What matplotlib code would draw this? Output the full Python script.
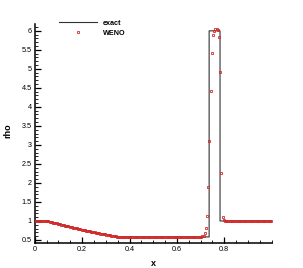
import numpy as np
import matplotlib
matplotlib.use("Agg")
import matplotlib.pyplot as plt
from matplotlib.ticker import MultipleLocator, FixedLocator, FuncFormatter

plt.rcParams['font.family'] = ['Liberation Sans', 'DejaVu Sans']

# Exact solution (breakpoints)
exact_x = [0.0, 0.052, 0.1, 0.15, 0.2, 0.25, 0.3, 0.353, 0.736, 0.736, 0.782, 0.782, 1.0]
exact_rho = [1.0, 1.0, 0.920, 0.843, 0.772, 0.704, 0.642, 0.58, 0.58, 6.0, 6.0, 1.0, 1.0]

# WENO cell values (200 cells)
weno_left = [1.0, 1.0, 1.0, 1.0, 1.0, 1.0, 1.0, 1.0, 1.0, 0.999]
weno_rarefaction = [
    0.997, 0.991, 0.982, 0.974, 0.966, 0.957, 0.949, 0.941, 0.933, 0.925,
    0.917, 0.909, 0.901, 0.893, 0.885, 0.877, 0.870, 0.862, 0.855, 0.847,
    0.840, 0.832, 0.825, 0.818, 0.810, 0.803, 0.796, 0.789, 0.782, 0.775,
    0.768, 0.761, 0.754, 0.747, 0.741, 0.734, 0.727, 0.721, 0.714, 0.708,
    0.701, 0.695, 0.688, 0.682, 0.676, 0.669, 0.663, 0.657, 0.651, 0.645,
    0.639, 0.633, 0.627, 0.621, 0.615, 0.610, 0.604, 0.598, 0.593, 0.588,
    0.584]
weno_plateau = [0.581, 0.580, 0.580, 0.580, 0.580, 0.580, 0.580, 0.580, 0.580, 0.580,
                0.580, 0.580, 0.580, 0.580, 0.580, 0.580, 0.580, 0.580, 0.580, 0.580,
                0.580, 0.580, 0.580, 0.580, 0.580, 0.580, 0.580, 0.580, 0.580, 0.580,
                0.580, 0.580, 0.580, 0.580, 0.580, 0.580, 0.580, 0.580, 0.580, 0.580,
                0.580, 0.580, 0.580, 0.580, 0.580, 0.580, 0.580, 0.580, 0.580, 0.580,
                0.580, 0.580, 0.580, 0.580, 0.580, 0.580, 0.580, 0.580, 0.580, 0.580,
                0.580, 0.580, 0.580, 0.580, 0.580, 0.580, 0.580, 0.580, 0.582, 0.585,
                0.595, 0.61]
weno_peak = [0.676, 0.81, 1.14, 1.90, 3.11, 4.43, 5.43, 5.89, 6.0, 6.04,
             6.04, 6.01, 5.83, 4.91, 2.25, 1.11, 1.02]
weno_right = [1.0] * 40

weno_rho = weno_left + weno_rarefaction + weno_plateau + weno_peak + weno_right
n_cells = len(weno_rho)
x_cells = (np.arange(n_cells) + 0.5) / n_cells

x_ticks = [0, 0.2, 0.4, 0.6, 0.8]
x_tick_labels = ["0", "0.2", "0.4", "0.6", "0.8"]
y_ticks = [0.5, 1, 1.5, 2, 2.5, 3, 3.5, 4, 4.5, 5, 5.5, 6]

fig = plt.figure(figsize=(3.03, 2.68), dpi=100)
W, H = 303, 268
ax = fig.add_axes([34.7 / W, 25 / H, 237 / W, 219 / H])

ax.plot(exact_x, exact_rho, color='#333333', lw=0.8, label='exact', zorder=2)
ax.plot(x_cells, weno_rho, linestyle='none', marker='s', markersize=2.0,
        markerfacecolor='none', markeredgecolor='#d42a2a', markeredgewidth=0.6,
        label='WENO', zorder=3)

ax.set_xlim(0, 1.0)
ax.set_ylim(0.42, 6.18)

for s in ['top', 'right']:
    ax.spines[s].set_visible(False)
for s in ['left', 'bottom']:
    ax.spines[s].set_linewidth(1.1)

ax.xaxis.set_major_locator(FixedLocator(x_ticks))
ax.set_xticklabels(x_tick_labels)
ax.xaxis.set_minor_locator(MultipleLocator(0.05))
ax.yaxis.set_major_locator(FixedLocator(y_ticks))
ax.yaxis.set_major_formatter(FuncFormatter(lambda v, p: ('%g' % v)))
ax.yaxis.set_minor_locator(MultipleLocator(0.1))

ax.tick_params(axis='both', which='major', direction='in', length=4, width=0.9,
               labelsize=5.2, pad=2)
ax.tick_params(axis='both', which='minor', direction='in', length=2, width=0.6)

ax.set_xlabel('x', fontsize=6.5, fontweight='bold')
ax.set_ylabel('rho', fontsize=6.5, fontweight='bold')
ax.xaxis.set_label_coords(0.5, -0.075)
ax.yaxis.set_label_coords(-0.093, 0.515)

leg = ax.legend(loc='upper left', bbox_to_anchor=(59 / W, 1 - 19.5 / H),
                bbox_transform=fig.transFigure, frameon=False,
                prop={'weight': 'bold', 'size': 5.2}, handlelength=5.3,
                handletextpad=0.8, labelspacing=0.45, borderpad=0, borderaxespad=0,
                numpoints=1)

fig.savefig('out.png', dpi=100)
